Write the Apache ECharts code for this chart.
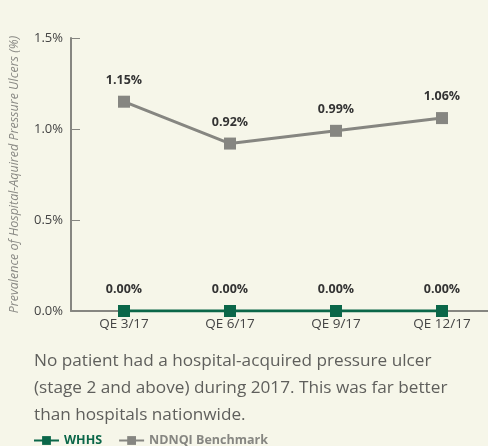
<!DOCTYPE html>
<html>
<head>
<meta charset="utf-8">
<script src="https://cdn.jsdelivr.net/npm/echarts@6/dist/echarts.min.js"></script>
<style>
  html, body { margin: 0; padding: 0; background: #f6f6e9; overflow: hidden; }
  #main { width: 500px; height: 446px; }
</style>
</head>
<body>
<div id="main"></div>
<script>
// quarters and rates (%)
let quarters = ['QE 3/17', 'QE 6/17', 'QE 9/17', 'QE 12/17'];
let whhs = [0, 0, 0, 0];
let ndnqi = [1.15, 0.92, 0.99, 1.06];
let yTicks = [0, 0.5, 1.0, 1.5];

let green = '#0b6749';
let gray = '#868681';
let font = '"Open Sans", sans-serif';

var myChart = echarts.init(document.getElementById('main'));
var option = {
  backgroundColor: '#f6f6e9',
  textStyle: { fontFamily: font },
  title: {
    text: 'No patient had a hospital-acquired pressure ulcer\n(stage 2 and above) during 2017. This was far better\nthan hospitals nationwide.',
    left: 29,
    top: 343,
    textStyle: { fontSize: 17.2, fontWeight: 'normal', color: '#5f5f5c', lineHeight: 27, fontFamily: font }
  },
  legend: {
    left: 28,
    top: 429,
    itemWidth: 25,
    itemHeight: 11,
    itemGap: 16,
    data: [
      { name: 'WHHS', textStyle: { color: green } },
      { name: 'NDNQI Benchmark', textStyle: { color: gray } }
    ],
    textStyle: { fontSize: 12.5, fontWeight: 'bold', fontFamily: font }
  },
  grid: { left: 71, top: 38, width: 424, bottom: 135, containLabel: false },
  xAxis: {
    type: 'category',
    data: quarters,
    boundaryGap: true,
    axisLine: { lineStyle: { color: gray, width: 2 } },
    axisTick: { inside: true, length: 6, lineStyle: { color: gray } },
    axisLabel: { color: '#444', fontSize: 13.5, margin: 6 }
  },
  yAxis: {
    type: 'value',
    min: 0,
    max: 1.5,
    interval: 0.5,
    name: 'Prevalence of Hospital-Aquired Pressure Ulcers (%)',
    nameLocation: 'middle',
    nameGap: 50,
    nameTextStyle: { color: '#8a8a85', fontStyle: 'italic', fontSize: 12.5, fontFamily: font },
    axisLine: { show: true, lineStyle: { color: gray, width: 2 } },
    axisTick: { show: true, inside: true, length: 9, lineStyle: { color: gray } },
    splitLine: { show: false },
    axisLabel: {
      color: '#444', fontSize: 13, margin: 8,
      formatter: v => yTicks.indexOf(v) > -1 ? v.toFixed(1) + '%' : ''
    }
  },
  series: [
    {
      name: 'WHHS',
      type: 'line',
      data: whhs,
      symbol: 'rect',
      symbolSize: 12,
      z: 3,
      itemStyle: { color: green },
      lineStyle: { color: green, width: 3 },
      label: {
        show: true, position: 'top', distance: 9,
        color: '#333', fontSize: 12.5, fontWeight: 'bold',
        formatter: p => p.value.toFixed(2) + '%'
      }
    },
    {
      name: 'NDNQI Benchmark',
      type: 'line',
      data: ndnqi,
      symbol: 'rect',
      symbolSize: 12,
      itemStyle: { color: gray },
      lineStyle: { color: gray, width: 3 },
      label: {
        show: true, position: 'top', distance: 9,
        color: '#333', fontSize: 12.5, fontWeight: 'bold',
        formatter: p => p.value.toFixed(2) + '%'
      }
    }
  ]
};
myChart.setOption(option);
</script>
</body>
</html>
